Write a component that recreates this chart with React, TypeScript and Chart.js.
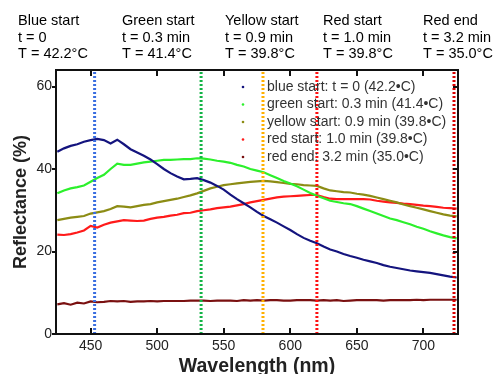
import React, { useEffect, useRef } from "react";
import { Chart, registerables } from "chart.js";
Chart.register(...registerables);

const wavelengths = [
  425, 430, 435, 440, 445, 450, 455, 460, 465, 470, 475, 480, 485, 490, 495, 500,
  505, 510, 515, 520, 525, 530, 535, 540, 545, 550, 555, 560, 565, 570, 575, 580,
  585, 590, 595, 600, 605, 610, 615, 620, 625, 630, 635, 640, 645, 650, 655, 660,
  665, 670, 675, 680, 685, 690, 695, 700, 705, 710, 715, 720, 725,
];

const blueStart = [
  44.2, 45.0, 45.6, 46.0, 46.6, 47.0, 47.3, 47.0, 46.2, 47.1, 46.0, 44.8, 44.0, 43.2, 42.3, 41.2,
  40.0, 39.0, 38.2, 37.5, 37.6, 37.8, 37.3, 36.7, 35.9, 35.0, 33.8, 32.7, 31.7, 30.7, 29.6, 28.6,
  27.8, 27.0, 26.1, 25.2, 24.2, 23.3, 22.6, 22.0, 21.2, 20.5, 20.0, 19.4, 18.9, 18.5, 18.0, 17.6,
  17.2, 16.7, 16.3, 16.0, 15.7, 15.4, 15.2, 15.0, 14.8, 14.5, 14.2, 13.9, 13.7,
];

const greenStart = [
  34.1, 34.8, 35.3, 35.6, 36.0, 36.9, 37.8, 38.6, 40.0, 41.3, 41.0, 41.0, 41.3, 41.6, 41.8, 42.0,
  42.2, 42.2, 42.3, 42.4, 42.4, 42.6, 42.5, 42.3, 42.0, 41.8, 41.5, 41.0, 40.6, 40.0, 39.6, 39.2,
  38.5, 37.8, 37.1, 36.5, 35.8, 35.0, 34.2, 33.5, 32.9, 32.3, 32.0, 31.7, 31.5, 31.0, 30.4, 29.8,
  29.2, 28.6, 28.0, 27.6, 27.1, 26.6, 26.0, 25.5, 24.9, 24.4, 23.9, 23.5, 23.2,
];

const yellowStart = [
  27.6, 27.9, 28.2, 28.4, 28.6, 29.2, 29.5, 29.8, 30.3, 31.0, 30.9, 30.7, 31.0, 31.3, 31.5, 31.9,
  32.2, 32.5, 32.8, 33.2, 33.6, 34.1, 34.7, 35.3, 35.7, 36.1, 36.3, 36.5, 36.7, 36.9, 37.0, 37.1,
  37.0, 36.8, 36.6, 36.4, 36.3, 36.1, 36.0, 35.9, 35.3, 34.8, 34.6, 34.4, 34.3, 34.0, 33.8, 33.5,
  33.1, 32.7, 32.3, 31.9, 31.4, 31.0, 30.6, 30.2, 29.8, 29.4, 29.0, 28.7, 28.5,
];

const redStart = [
  24.1, 24.0, 24.2, 24.6, 25.1, 26.2, 25.8, 26.5, 27.0, 27.3, 27.6, 27.5, 27.4, 27.5, 27.9, 28.2,
  28.4, 28.7, 28.9, 29.3, 29.4, 29.8, 30.0, 30.2, 30.5, 30.7, 30.9, 31.2, 31.5, 31.9, 32.2, 32.5,
  32.8, 33.1, 33.3, 33.4, 33.5, 33.6, 33.7, 33.7, 33.2, 32.8, 32.7, 32.7, 32.7, 32.7, 32.7, 32.6,
  32.3, 32.1, 31.9, 31.8, 31.6, 31.5, 31.3, 31.1, 31.0, 30.8, 30.6, 30.5, 30.4,
];

const redEnd = [
  7.2, 7.5, 7.1, 7.6, 7.4, 7.9, 7.7, 7.8, 8.0, 7.9, 8.0, 7.8, 7.9, 7.9, 8.0, 7.9,
  8.0, 8.0, 8.0, 8.0, 8.1, 8.1, 8.1, 8.0, 8.1, 8.1, 8.1, 8.0, 8.2, 8.1, 8.2, 8.1,
  8.2, 8.2, 8.1, 8.1, 8.2, 8.2, 8.2, 8.1, 8.2, 8.1, 8.2, 8.0, 8.1, 8.2, 8.2, 8.2,
  8.2, 8.1, 8.2, 8.2, 8.2, 8.2, 8.3, 8.2, 8.3, 8.3, 8.3, 8.3, 8.3,
];

const markerWavelengths = [453, 533, 579.5, 620, 723];
const xTicks = [450, 500, 550, 600, 650, 700];
const yTicks = [0, 20, 40, 60];

const legendLabels = [
  "blue start: t = 0 (42.2\u2022C)",
  "green start: 0.3 min (41.4\u2022C)",
  "yellow start: 0.9 min (39.8\u2022C)",
  "red start: 1.0 min (39.8\u2022C)",
  "red end: 3.2 min (35.0\u2022C)",
];
const headerTitles = ["Blue start", "Green start", "Yellow start", "Red start", "Red end"];
const headerTimes = ["t = 0", "t = 0.3 min", "t = 0.9 min", "t = 1.0 min", "t = 3.2 min"];
const headerTemps = ["T = 42.2\u00b0C", "T = 41.4\u00b0C", "T = 39.8\u00b0C", "T = 39.8\u00b0C", "T = 35.0\u00b0C"];

const seriesColors = ["#14147e", "#2cf02c", "#8c8c14", "#ff1a1a", "#7a1010"];
const markerColors = ["#3a6ee0", "#12b446", "#ffb000", "#ff1010", "#d80000"];
const headerX = [18, 122, 225, 323, 423];
const FONT = "Arial, 'Liberation Sans', sans-serif";

const decor = {
  id: "decor",
  afterDraw(chart: any) {
    const { ctx, chartArea: a, scales } = chart;
    const xs = scales.x;
    const ys = scales.y;
    ctx.save();
    ctx.strokeStyle = "#111";
    ctx.lineWidth = 2;
    ctx.strokeRect(a.left, a.top, a.right - a.left, a.bottom - a.top);
    const seg = (x1: number, y1: number, x2: number, y2: number) => {
      ctx.beginPath();
      ctx.moveTo(x1, y1);
      ctx.lineTo(x2, y2);
      ctx.stroke();
    };
    xTicks.forEach((v) => {
      const px = Math.round(xs.getPixelForValue(v));
      seg(px, a.bottom, px, a.bottom - 6);
      seg(px, a.top, px, a.top + 6);
    });
    yTicks.forEach((v) => {
      const py = Math.round(ys.getPixelForValue(v));
      seg(a.left - 4, py, a.left, py);
      seg(a.right, py, a.right - 5, py);
    });

    // legend
    ctx.font = `14px ${FONT}`;
    ctx.textBaseline = "middle";
    ctx.textAlign = "left";
    legendLabels.forEach((lab, i) => {
      const y = 87 + i * 17.5;
      ctx.fillStyle = seriesColors[i];
      ctx.beginPath();
      ctx.arc(243, y, 1.3, 0, Math.PI * 2);
      ctx.fill();
      ctx.fillStyle = "#333";
      ctx.fillText(lab, 267, y);
    });

    // header
    ctx.font = `14.5px ${FONT}`;
    ctx.fillStyle = "#000";
    headerTitles.forEach((t, i) => {
      ctx.fillText(t, headerX[i], 21);
      ctx.fillText(headerTimes[i], headerX[i], 38);
      ctx.fillText(headerTemps[i], headerX[i], 54);
    });

    // axis titles
    ctx.font = `bold 18px ${FONT}`;
    ctx.fillStyle = "#222";
    ctx.textAlign = "center";
    ctx.save();
    ctx.translate(21, (a.top + a.bottom) / 2);
    ctx.rotate(-Math.PI / 2);
    ctx.fillText("Reflectance (%)", 0, 0);
    ctx.restore();
    ctx.font = `bold 19.5px ${FONT}`;
    ctx.fillText("Wavelength (nm)", (a.left + a.right) / 2, 367);
    ctx.restore();
  },
};

export default function App() {
  const ref = useRef<HTMLCanvasElement | null>(null);
  useEffect(() => {
    if (!ref.current) return;
    const series = [blueStart, greenStart, yellowStart, redStart, redEnd];
    const markerSets = markerWavelengths.map((w, i) => ({
      label: "marker" + i,
      data: [
        { x: w, y: 0 },
        { x: w, y: 64 },
      ],
      borderColor: markerColors[i],
      borderWidth: 3,
      borderDash: [2, 2],
      pointRadius: 0,
      order: 0,
    }));
    const dataSets = series.map((vals, i) => ({
      label: legendLabels[i],
      data: wavelengths.map((w, j) => ({ x: w, y: vals[j] })),
      borderColor: seriesColors[i],
      borderWidth: 2.2,
      pointRadius: 0,
      tension: 0,
      order: 1,
    }));
    const chart = new Chart(ref.current, {
      type: "line",
      data: { datasets: [...markerSets, ...dataSets] as any },
      options: {
        animation: false,
        responsive: false,
        maintainAspectRatio: false,
        layout: { padding: { left: 0, right: 35, top: 70, bottom: 0 } },
        plugins: { legend: { display: false }, tooltip: { enabled: false } },
        scales: {
          x: {
            type: "linear",
            min: 424,
            max: 726,
            afterBuildTicks: (s: any) => {
              s.ticks = xTicks.map((v) => ({ value: v }));
            },
            afterFit: (s: any) => {
              s.height = 40;
            },
            grid: { display: false, drawTicks: false },
            border: { display: false },
            ticks: {
              padding: 4,
              color: "#222",
              font: { size: 14, family: FONT },
              maxRotation: 0,
              autoSkip: false,
            },
          },
          y: {
            min: 0,
            max: 64,
            afterBuildTicks: (s: any) => {
              s.ticks = yTicks.map((v) => ({ value: v }));
            },
            afterFit: (s: any) => {
              s.width = 56;
            },
            grid: { display: false, drawTicks: false },
            border: { display: false },
            ticks: {
              padding: 4,
              color: "#222",
              font: { size: 14, family: FONT },
            },
          },
        },
      },
      plugins: [decor],
    });
    return () => chart.destroy();
  }, []);
  return (
    <div style={{ position: "fixed", left: 0, top: 0, width: 493, height: 374, background: "#fff" }}>
      <canvas ref={ref} width={493} height={374} style={{ width: 493, height: 374 }} />
    </div>
  );
}
